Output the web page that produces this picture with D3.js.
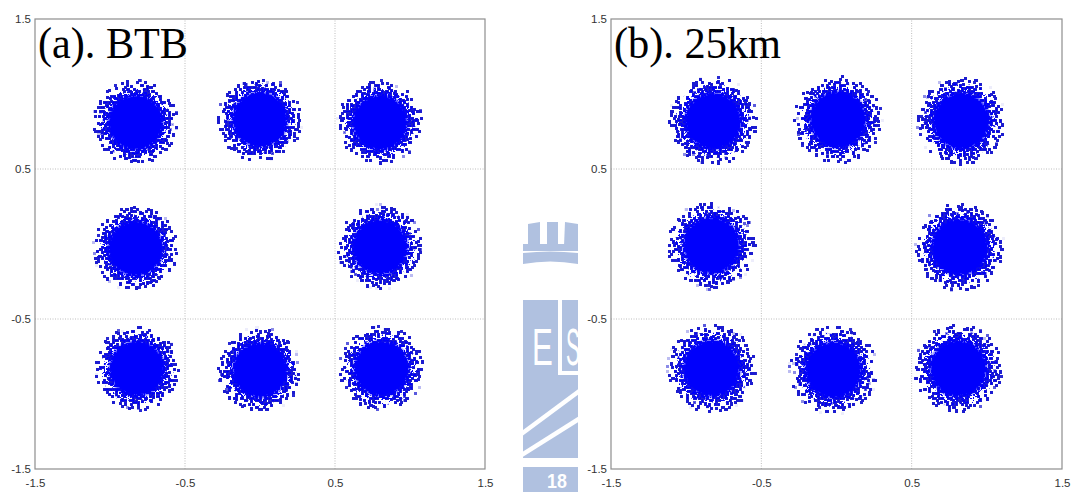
<!DOCTYPE html>
<html>
<head>
<meta charset="utf-8">
<script src="https://cdn.jsdelivr.net/npm/d3@7"></script>
<style>
  html, body { margin: 0; padding: 0; background: #fff; }
  #chart { width: 1075px; height: 492px; }
  .tick text { font-family: "Liberation Sans", Arial, sans-serif; font-size: 11.5px; fill: #333; }
  .title { font-family: "Liberation Serif", "Times New Roman", serif; font-size: 45px; fill: #000; }
</style>
</head>
<body>
<div id="chart"></div>
<script>
(() => {
  "use strict";

  // axis ticks (both axes) and dotted grid positions
  const TICKS = [-1.5, -0.5, 0.5, 1.5];
  const TICK_LABELS = ["-1.5", "-0.5", "0.5", "1.5"];
  const GRID = [-0.5, 0.5];

  const TITLES = ["(a). BTB", "(b). 25km"];

  // 8-point constellation: cluster centres (I / Q)
  const BTB_I  = [-0.83, 0.00, 0.80, -0.83, 0.80, -0.82, 0.00, 0.81];
  const BTB_Q  = [ 0.81, 0.83, 0.81, -0.03, -0.02, -0.83, -0.84, -0.83];
  const KM25_I = [-0.82, 0.01, 0.83, -0.83, 0.82, -0.83, -0.02, 0.81];
  const KM25_Q = [ 0.82, 0.83, 0.82, -0.01, -0.02, -0.83, -0.84, -0.83];

  // spread of each cloud: dense core radius and outer scatter radius
  const CORE_R = [0.20, 0.205];
  const HALO_R = [0.32, 0.335];

  const BLUE = "#0000fc";
  const DOT = "#1c1cd0";
  const WM = "#b0c1e0";

  const panels = [
    { title: TITLES[0], I: BTB_I, Q: BTB_Q, core: CORE_R[0], halo: HALO_R[0], left: 35, width: 450, tl: 150 },
    { title: TITLES[1], I: KM25_I, Q: KM25_Q, core: CORE_R[1], halo: HALO_R[1], left: 611, width: 451, tl: 167 }
  ];
  const top = 19, height = 450;

  const svg = d3.select("#chart").append("svg")
    .attr("width", 1075).attr("height", 492);

  const defs = svg.append("defs");

  // speckled cloud: solid core with ragged rim + sparse dots, from a radial density and noise
  const f = defs.append("filter").attr("id", "speck")
    .attr("x", "-5%").attr("y", "-5%").attr("width", "110%").attr("height", "110%")
    .attr("color-interpolation-filters", "sRGB");
  f.append("feTurbulence").attr("type", "fractalNoise")
    .attr("baseFrequency", 0.55).attr("numOctaves", 1).attr("seed", 7).attr("result", "noise");
  f.append("feComponentTransfer").attr("in", "noise").attr("result", "n2")
    .append("feFuncA").attr("type", "linear").attr("slope", 5).attr("intercept", -2.5);
  // core
  f.append("feComposite").attr("in", "SourceGraphic").attr("in2", "n2").attr("operator", "arithmetic")
    .attr("k1", 0).attr("k2", 1).attr("k3", 0.35).attr("k4", -0.7).attr("result", "cs");
  f.append("feComponentTransfer").attr("in", "cs").attr("result", "coreMask")
    .append("feFuncA").attr("type", "linear").attr("slope", 20).attr("intercept", 0);
  // scattered dots: sparse seeds grown into small round-ish dots
  f.append("feComposite").attr("in", "SourceGraphic").attr("in2", "n2").attr("operator", "arithmetic")
    .attr("k1", 0).attr("k2", 0.8).attr("k3", 1).attr("k4", -1.16).attr("result", "ds");
  f.append("feComponentTransfer").attr("in", "ds").attr("result", "seeds")
    .append("feFuncA").attr("type", "linear").attr("slope", 25).attr("intercept", 0);
  f.append("feMorphology").attr("in", "seeds").attr("operator", "dilate").attr("radius", 1).attr("result", "dotBox");
  f.append("feGaussianBlur").attr("in", "dotBox").attr("stdDeviation", 0.45).attr("result", "dotSoft");
  f.append("feComponentTransfer").attr("in", "dotSoft").attr("result", "dotMask")
    .append("feFuncA").attr("type", "linear").attr("slope", 2.2).attr("intercept", -0.35);
  f.append("feFlood").attr("flood-color", DOT).attr("result", "dotInk");
  f.append("feComposite").attr("in", "dotInk").attr("in2", "dotMask").attr("operator", "in").attr("result", "dots");
  f.append("feFlood").attr("flood-color", BLUE).attr("result", "coreInk");
  f.append("feComposite").attr("in", "coreInk").attr("in2", "coreMask").attr("operator", "in").attr("result", "core");
  const m = f.append("feMerge");
  m.append("feMergeNode").attr("in", "dots");
  m.append("feMergeNode").attr("in", "core");

  panels.forEach((p, k) => {
    const g = defs.append("radialGradient").attr("id", "dens" + k);
    const c = p.core / p.halo;
    [[0, 1], [c, 0.7], [1, 0]].forEach(([o, a]) =>
      g.append("stop").attr("offset", o).attr("stop-color", "#fff").attr("stop-opacity", a));
  });

  defs.append("clipPath").attr("id", "wmclip")
    .append("rect").attr("x", 523).attr("y", 0).attr("width", 55).attr("height", 492);

  // faint logo strip peeking between the two panels
  const wm = svg.append("g").attr("clip-path", "url(#wmclip)").attr("fill", WM);
  wm.append("path").attr("d", "M528,224L540,222L540,246L528,246Z");
  wm.append("rect").attr("x", 547).attr("y", 222).attr("width", 11).attr("height", 24);
  wm.append("path").attr("d", "M565,222L578,224L578,246L564,246Z");
  wm.append("rect").attr("x", 523).attr("y", 244).attr("width", 55).attr("height", 7);
  wm.append("path").attr("d", "M523,253Q550,250 578,253L578,264Q550,259 523,264Z");
  wm.append("rect").attr("x", 523).attr("y", 300).attr("width", 55).attr("height", 158);
  wm.append("rect").attr("x", 523).attr("y", 467).attr("width", 55).attr("height", 25);
  wm.append("rect").attr("x", 558).attr("y", 300).attr("width", 4).attr("height", 75).attr("fill", "#fff");
  wm.append("rect").attr("x", 558).attr("y", 371).attr("width", 22).attr("height", 4).attr("fill", "#fff");
  wm.append("text").attr("transform", "translate(532,365) scale(0.6,1)")
    .style("font", "52px 'Liberation Sans', Arial, sans-serif").attr("fill", "#fff").text("E");
  wm.append("text").attr("transform", "translate(566,365) scale(0.4,1)")
    .style("font", "52px 'Liberation Sans', Arial, sans-serif").attr("fill", "#fff").text("S");
  wm.append("line").attr("x1", 520).attr("y1", 435).attr("x2", 582).attr("y2", 389)
    .attr("stroke", "#fff").attr("stroke-width", 4.5);
  wm.append("line").attr("x1", 520).attr("y1", 456).attr("x2", 582).attr("y2", 417)
    .attr("stroke", "#fff").attr("stroke-width", 4.5);
  wm.append("text").attr("transform", "translate(547,488) scale(0.85,1)")
    .style("font", "bold 21px 'Liberation Sans', Arial, sans-serif").attr("fill", "#fff").text("18");

  panels.forEach((p, k) => {
    const x = d3.scaleLinear().domain([-1.5, 1.5]).range([p.left, p.left + p.width]);
    const y = d3.scaleLinear().domain([-1.5, 1.5]).range([top + height, top]);
    const g = svg.append("g");

    // dotted grid
    g.selectAll("line.gx").data(GRID).join("line").attr("class", "gx")
      .attr("x1", d => x(d)).attr("x2", d => x(d)).attr("y1", y(-1.5)).attr("y2", y(1.5));
    g.selectAll("line.gy").data(GRID).join("line").attr("class", "gy")
      .attr("y1", d => y(d)).attr("y2", d => y(d)).attr("x1", x(-1.5)).attr("x2", x(1.5));
    g.selectAll("line.gx, line.gy")
      .attr("stroke", "#bdbdbd").attr("stroke-width", 1).attr("stroke-dasharray", "1,1.5");

    // constellation clouds
    const pts = p.I.map((v, i) => ({ i: v, q: p.Q[i] }));
    g.append("g").selectAll("ellipse").data(pts).join("ellipse")
      .attr("cx", d => x(d.i)).attr("cy", d => y(d.q))
      .attr("rx", x(p.halo) - x(0)).attr("ry", y(0) - y(p.halo))
      .attr("fill", `url(#dens${k})`)
      .attr("filter", "url(#speck)");

    // frame
    g.append("rect").attr("x", x(-1.5)).attr("y", y(1.5))
      .attr("width", x(1.5) - x(-1.5)).attr("height", y(-1.5) - y(1.5))
      .attr("fill", "none").attr("stroke", "#8e8e8e").attr("stroke-width", 1.2);

    const xAxis = d3.axisBottom(x).tickValues(TICKS).tickFormat((d, i) => TICK_LABELS[i])
      .tickSize(0).tickPadding(10);
    const yAxis = d3.axisLeft(y).tickValues(TICKS).tickFormat((d, i) => TICK_LABELS[i])
      .tickSize(0).tickPadding(4);
    g.append("g").attr("transform", `translate(0,${y(-1.5)})`).call(xAxis).call(a => a.select(".domain").remove());
    g.append("g").attr("transform", `translate(${x(-1.5)},0)`).call(yAxis).call(a => a.select(".domain").remove());

    g.append("text").attr("class", "title")
      .attr("x", x(-1.5) + 3).attr("y", 58)
      .attr("textLength", p.tl).attr("lengthAdjust", "spacingAndGlyphs")
      .text(p.title);
  });
})();
</script>
</body>
</html>
